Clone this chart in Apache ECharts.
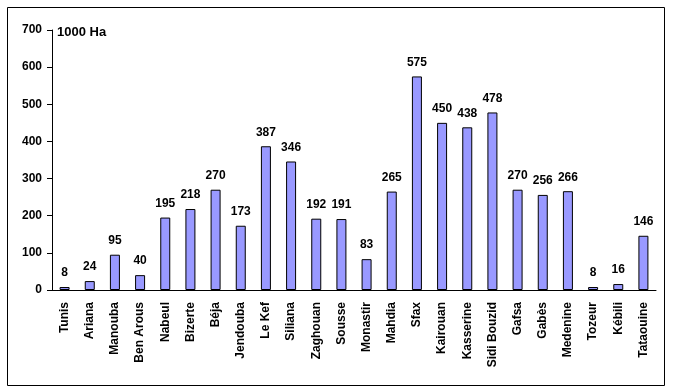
<!DOCTYPE html>
<html><head><meta charset="utf-8">
<script src="https://cdn.jsdelivr.net/npm/echarts@6/dist/echarts.min.js"></script>
<style>html,body{margin:0;padding:0;background:#fff}#c{width:674px;height:392px}</style>
</head><body><div id="c"></div>
<script>
const categories = ["Tunis","Ariana","Manouba","Ben Arous","Nabeul","Bizerte","Béja","Jendouba","Le Kef","Siliana","Zaghouan","Sousse","Monastir","Mahdia","Sfax","Kairouan","Kasserine","Sidi Bouzid","Gafsa","Gabès","Medenine","Tozeur","Kébili","Tataouine"];
const values = [8,24,95,40,195,218,270,173,387,346,192,191,83,265,575,450,438,478,270,256,266,8,16,146];
const unitLabel = "1000 Ha";
const font = "Liberation Sans, Arial, sans-serif";
const chart = echarts.init(document.getElementById('c'));
chart.setOption({
  animation:false,
  backgroundColor:'#fff',
  graphic:[
    {type:'rect',shape:{x:7.5,y:7.5,width:657,height:378},style:{fill:'none',stroke:'#000',lineWidth:1},silent:true},
    {type:'text',left:57,top:26,style:{text:unitLabel,font:'bold 13px '+font,fill:'#000'}}
  ],
  grid:{left:52,right:18,top:30,bottom:102},
  xAxis:{type:'category',data:categories,
    axisLine:{lineStyle:{color:'#000',width:1}},
    axisTick:{length:5,lineStyle:{color:'#000'}},
    axisLabel:{rotate:90,interval:0,color:'#000',fontWeight:'bold',fontSize:12,fontFamily:font,margin:12}},
  yAxis:{type:'value',min:0,max:700,interval:100,
    axisLine:{show:true,lineStyle:{color:'#000',width:1}},
    axisTick:{show:true,length:5,lineStyle:{color:'#000'}},
    splitLine:{show:false},
    axisLabel:{color:'#000',fontWeight:'bold',fontSize:12,fontFamily:font,margin:10}},
  series:[{type:'bar',data:values,barWidth:10,
    itemStyle:{color:'#9999FF',borderColor:'#000',borderWidth:1},
    label:{show:true,position:'top',distance:8,color:'#000',fontWeight:'bold',fontSize:12,fontFamily:font}}]
});
</script></body></html>
